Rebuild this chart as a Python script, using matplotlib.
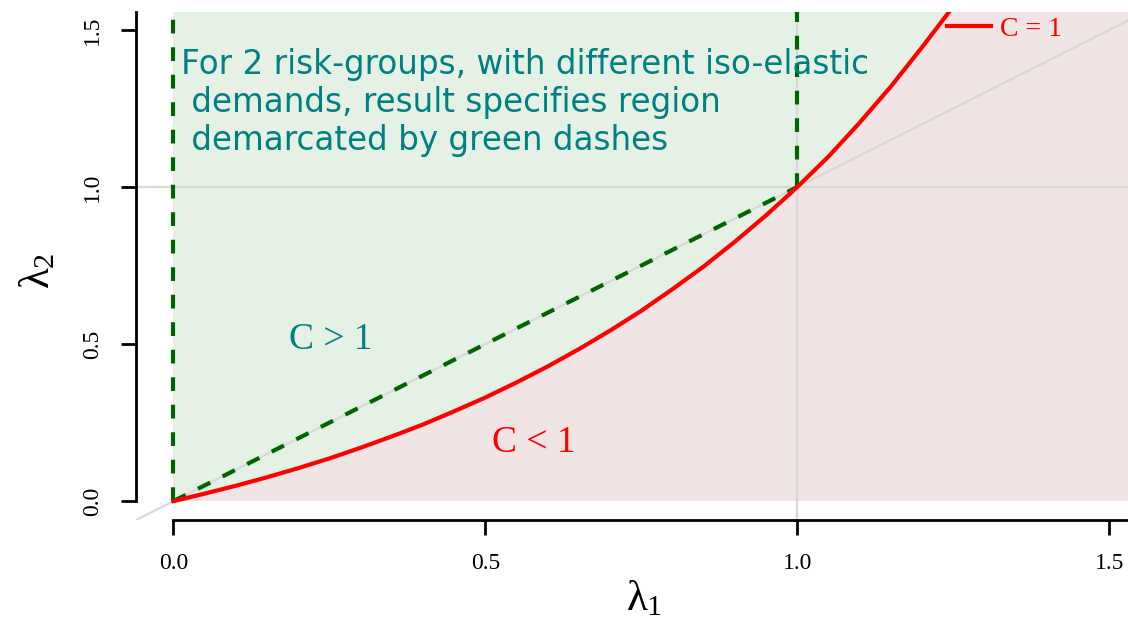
import numpy as np
import matplotlib
matplotlib.use("Agg")
import matplotlib.pyplot as plt

plt.rcParams['font.family'] = ['Liberation Serif', 'DejaVu Serif']
plt.rcParams['mathtext.fontset'] = 'custom'
plt.rcParams['mathtext.rm'] = 'Liberation Serif'
plt.rcParams['mathtext.it'] = 'Liberation Serif'

# C = 1 boundary curve
lam1 = [0.0, 0.05, 0.1, 0.15, 0.2, 0.25, 0.3, 0.35, 0.4, 0.45, 0.5, 0.55,
        0.6, 0.65, 0.7, 0.75, 0.8, 0.85, 0.9, 0.95, 1.0, 1.05, 1.1, 1.15,
        1.2, 1.25]
lam2 = [0.0, 0.024, 0.049, 0.076, 0.105, 0.136, 0.170, 0.206, 0.244, 0.286,
        0.330, 0.378, 0.429, 0.484, 0.543, 0.606, 0.675, 0.747, 0.826, 0.910,
        1.0, 1.097, 1.205, 1.32, 1.445, 1.575]

# green dashed boundaries of the result region
dash_x0 = [0.0, 0.0]
dash_y0 = [0.0, 2.0]
dash_x1 = [1.0, 1.0]
dash_y1 = [1.0, 2.0]
diag_x = [0.0, 1.0]
diag_y = [0.0, 1.0]

ticks = [0.0, 0.5, 1.0, 1.5]
tick_labels = ['0.0', '0.5', '1.0', '1.5']

xmin, xmax = -0.06, 1.53
ymin, ymax = -0.06, 1.557

note = ("For 2 risk-groups, with different iso-elastic\n"
        " demands, result specifies region\n"
        " demarcated by green dashes")

green_fill = '#e6f1e6'
pink_fill = '#f1e4e4'
grey = '#d9d9d9'
dgreen = '#006400'
teal = '#008080'

fig = plt.figure(figsize=(11.28, 6.24), dpi=100)
ax = fig.add_axes([136 / 1128, 104 / 624, 992 / 1128, 508 / 624])
ax.set_xlim(xmin, xmax)
ax.set_ylim(ymin, ymax)

# shaded regions
ax.fill_between([0.0, 2.0], 0.0, 2.0, color=pink_fill, lw=0, zorder=0)
ax.fill_between(lam1, lam2, 2.0, color=green_fill, lw=0, zorder=0)

# reference lines
ax.axhline(1.0, color=grey, lw=1.6, zorder=1)
ax.axvline(1.0, color=grey, lw=1.6, zorder=1)
ax.axline((0, 0), (1, 1), color=grey, lw=1.6, zorder=1)

for xs, ys in [(dash_x0, dash_y0), (dash_x1, dash_y1), (diag_x, diag_y)]:
    ax.plot(xs, ys, color=dgreen, lw=3, dashes=(3.3, 3.3), zorder=2)

ax.plot(lam1, lam2, color='red', lw=3, zorder=3, label='C = 1')

leg = ax.legend(loc='center left', bbox_to_anchor=((947 - 136) / 992, (624 - 29 - 104) / 508),
                frameon=False, fontsize=20, handlelength=1.6, handletextpad=0.3,
                borderpad=0, borderaxespad=0)
for t in leg.get_texts():
    t.set_color('red')

ax.text(0.012, 1.118, note, color=teal, fontsize=23.5, family='DejaVu Sans',
        va='baseline', ha='left', linespacing=1.2)
ax.text(0.253, 0.513, 'C > 1', color=teal, fontsize=27, ha='center', va='center')
ax.text(0.577, 0.185, 'C < 1', color='red', fontsize=27, ha='center', va='center')

# R-like axes
for s in ['top', 'right']:
    ax.spines[s].set_visible(False)
ax.spines['left'].set_bounds(0, ymax)
ax.spines['bottom'].set_bounds(0, xmax)
ax.spines['left'].set_linewidth(2)
ax.spines['bottom'].set_linewidth(2)
ax.set_xticks(ticks)
ax.set_xticklabels(tick_labels)
ax.set_yticks(ticks)
ax.set_yticklabels(tick_labels, rotation=90, va='center')
ax.tick_params(axis='both', length=11, width=2, labelsize=17, pad=13)

ax.set_xlabel(r'$\lambda_1$', fontsize=31)
ax.set_ylabel(r'$\lambda_2$', fontsize=31)
ax.xaxis.set_label_coords(0.512, -0.118)
ax.yaxis.set_label_coords(-0.078, 0.49)

fig.savefig('out.png', dpi=100)
